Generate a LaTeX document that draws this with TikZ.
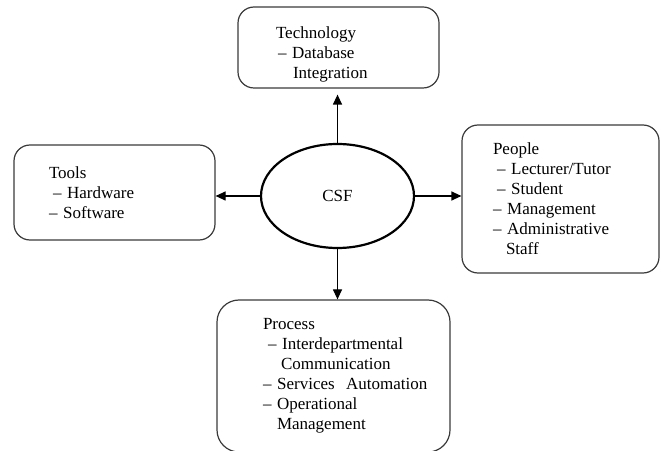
\documentclass[tikz,border=0pt]{standalone}
\usepackage{fontspec}
\setmainfont{Liberation Serif}
\usetikzlibrary{arrows.meta, shapes.geometric}
\definecolor{cline}{HTML}{3A3A3A}
\tikzset{
  every picture/.style={x=1pt, y=1pt, line width=1.2pt},
  box/.style={draw=cline, rounded corners=16pt, align=left, font=\fontsize{17}{20}\selectfont, anchor=center},
  csfnode/.style={draw=black, ellipse, line width=2.2pt, minimum width=153pt, minimum height=104pt, font=\fontsize{17}{20}\selectfont},
  arrow/.style={-{Triangle[length=10pt, width=9pt]}, draw=black, line width=1.2pt},
}
\begin{document}
\begin{tikzpicture}
  \useasboundingbox (0,0) rectangle (661,450);
  % centre
  \node[csfnode] (csf) at (337.5, 254) {CSF};
  % the four boxes
  \node[box, minimum width=201pt, minimum height=81pt, inner xsep=38pt, text width=125pt] (tech) at (338.5, 402.5)
    {\raisebox{-7pt}[\height][\depth]{\parbox[b]{125pt}{Technology\\\hspace*{2pt}– Database\\\hspace*{17pt}Integration}}};
  \node[box, minimum width=201pt, minimum height=95pt, inner xsep=35pt, text width=131pt] (tools) at (114.5, 257.5)
    {Tools\\\hspace*{4pt}– Hardware\\– Software};
  \node[box, minimum width=197pt, minimum height=148pt, inner xsep=31pt, text width=135pt] (people) at (560.5, 251)
    {People\\\hspace*{4pt}– Lecturer/Tutor\\\hspace*{4pt}– Student\\– Management\\– Administrative\\\hspace*{13pt}Staff};
  \node[box, rounded corners=22pt, minimum width=233pt, minimum height=152pt, inner xsep=46pt, text width=141pt] (proc) at (333.5, 74)
    {\makebox[141pt][l]{\parbox[b]{180pt}{Process\\\hspace*{5pt}– Interdepartmental\\\hspace*{18pt}Communication\\– Services\ \ Automation\\– Operational\\\hspace*{14pt}Management}}};
  % connectors
  \draw[arrow, shorten >=6pt] (csf.north) -- (csf.north |- tech.south);
  \draw[arrow] (csf.south) -- (csf.south |- proc.north);
  \draw[arrow] (csf.west) -- (csf.west -| tools.east);
  \draw[arrow] (csf.east) -- (csf.east -| people.west);
\end{tikzpicture}
\end{document}
